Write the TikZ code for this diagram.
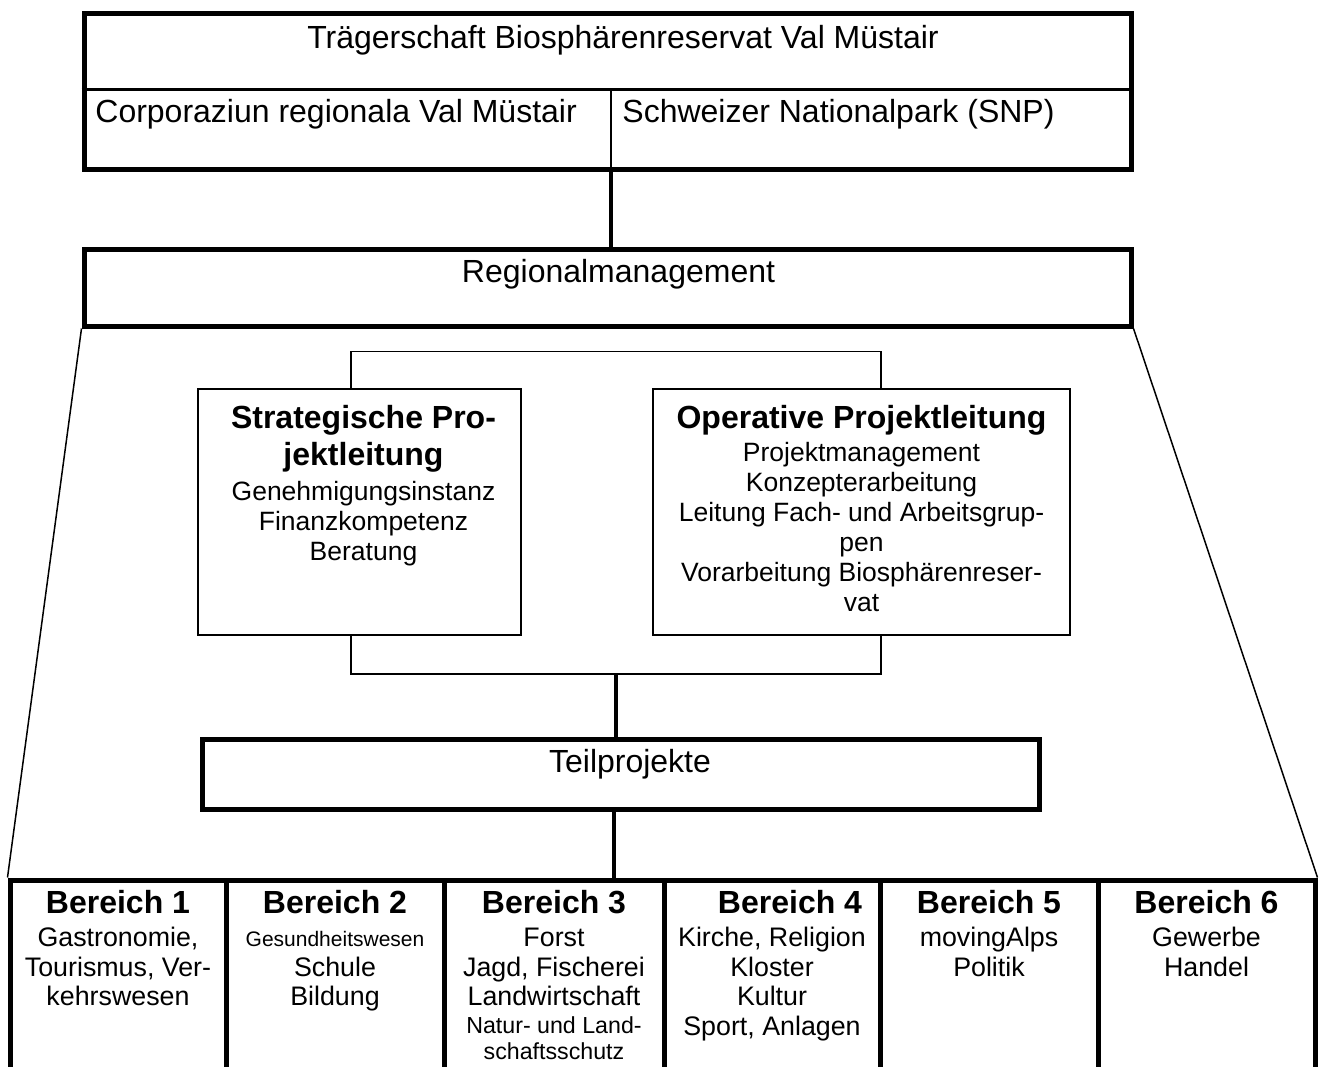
\documentclass[tikz,border=0pt]{standalone}
\usepackage{fontspec}
\setmainfont{Liberation Sans}
\usetikzlibrary{positioning}

\newcommand{\fsBig}{\fontsize{16}{18.5}\selectfont}
\newcommand{\fsHead}{\bfseries\fontsize{16}{18.5}\selectfont}
\newcommand{\fsMid}{\fontsize{13.25}{15}\selectfont}
\newcommand{\fsLow}{\fontsize{13.4}{14.75}\selectfont}
\newcommand{\fsSmall}{\fontsize{11.6}{13}\selectfont}
\newcommand{\fsTiny}{\fontsize{10.5}{12}\selectfont}

\begin{document}
\begin{tikzpicture}[x=0.5pt, y=-0.5pt,
    thickbox/.style={draw, line width=2.5pt, inner sep=0pt},
    thinbox/.style={draw, line width=0.75pt, inner sep=0pt},
    bar/.style={line width=2pt},
    thinline/.style={line width=0.75pt},
    boxtext/.style={inner sep=0pt, align=center},
    label/.style={inner sep=0pt, font=\fsBig}]
            \useasboundingbox (0,0) rectangle (1320,1066);
            \clip (0,0) rectangle (1320,1066);

            % Traegerschaft
            \node[thickbox, minimum width=523.5pt, minimum height=78pt] (traeger) at (607.5,91) {};
            \coordinate (split) at (611,89);
            \draw[line width=1.5pt] (traeger.west |- split) -- (traeger.east |- split);
            \draw[line width=1pt] (split) -- (split |- traeger.south);
            \node[label, anchor=base] (traegertxt) at (623,48) {Trägerschaft Biosphärenreservat Val Müstair};
            \node[label, anchor=base west] (corp) at (95,122) {Corporaziun regionala Val Müstair};
            \node[label, anchor=base west] (snp) at (622,122) {Schweizer Nationalpark (SNP)};

            % Regionalmanagement
            \node[thickbox, minimum width=523.5pt, minimum height=38.5pt] (regio) at (607.5,287.5) {};
            \node[label, anchor=base] (regiotxt) at (618.5,282) {Regionalmanagement};
            \draw[bar] (split |- traeger.south) -- (split |- regio.north);

            % Projektleitung
            \node[thinbox, minimum width=161.5pt, minimum height=123pt] (strat) at (359.5,512) {};
            \node[thinbox, minimum width=208.5pt, minimum height=123pt] (oper) at (861.5,512) {};
            \node[boxtext, font=\fsMid, below=8.5pt of strat.north, xshift=2pt] (strattxt)
                {{\fsHead Strategische Pro-}\\[3.5pt]{\fsHead jektleitung}\\[2.5pt]Genehmigungsinstanz\\Finanzkompetenz\\Beratung};
            \node[boxtext, font=\fsMid, below=8.5pt of oper.north] (opertxt)
                {{\fsHead Operative Projektleitung}\\[1.5pt]Projektmanagement\\Konzepterarbeitung\\Leitung Fach- und Arbeitsgrup-\\pen\\Vorarbeitung Biosphärenreser-\\vat};
            \draw[thinline] ([xshift=-4.25pt]strat.north) -- ++(0,-37) -| ([xshift=9.75pt]oper.north);
            \draw[thinline] ([xshift=-4.25pt]strat.south) -- ++(0,38) -| ([xshift=9.75pt]oper.south);

            % Teilprojekte
            \node[thickbox, minimum width=418.5pt, minimum height=35pt] (teil) at (620.5,774) {};
            \node[label, anchor=base] (teiltxt) at (630,772) {Teilprojekte};
            \coordinate (brk) at (616,673);
            \draw[bar] (brk) -- (brk |- teil.north);

            % Bereiche
            \foreach \n/\cx/\w in {1/118/108, 2/335/109, 3/554/110, 4/772/108, 5/989/109, 6/1206.5/108.5}
                \node[thickbox, minimum width=\w pt, minimum height=110pt] (col\n) at (\cx,990) {};
            \draw[bar] ([xshift=-3.25pt]teil.south) -- ([xshift=-3.25pt]teil.south |- col3.north);
            \draw[thinline] (regio.south west) -- (col1.north west);
            \draw[thinline] (regio.south east) -- (col6.north east);

            \node[boxtext, font=\fsLow, below=6.2pt of col1.north] (b1)
                {{\fsHead Bereich 1}\\[1.75pt]Gastronomie,\\Tourismus, Ver-\\kehrswesen};
            \node[boxtext, font=\fsLow, below=6.2pt of col2.north] (b2)
                {{\fsHead Bereich 2}\\[1.75pt]{\fsTiny Gesundheitswesen}\\Schule\\Bildung};
            \node[boxtext, font=\fsLow, below=6.2pt of col3.north] (b3)
                {{\fsHead Bereich 3}\\[1.75pt]Forst\\Jagd, Fischerei\\Landwirtschaft\\[-1pt]{\fsSmall Natur- und Land-}\\[-1.5pt]{\fsSmall schaftsschutz}};
            \node[boxtext, font=\fsLow, below=6.2pt of col4.north] (b4)
                {{\fsHead\hspace*{18pt}Bereich 4}\\[1.75pt]Kirche, Religion\\Kloster\\Kultur\\Sport, Anlagen};
            \node[boxtext, font=\fsLow, below=6.2pt of col5.north] (b5)
                {{\fsHead Bereich 5}\\[1.75pt]movingAlps\\Politik};
            \node[boxtext, font=\fsLow, below=6.2pt of col6.north] (b6)
                {{\fsHead Bereich 6}\\[1.75pt]Gewerbe\\Handel};
        \end{tikzpicture}
\end{document}
